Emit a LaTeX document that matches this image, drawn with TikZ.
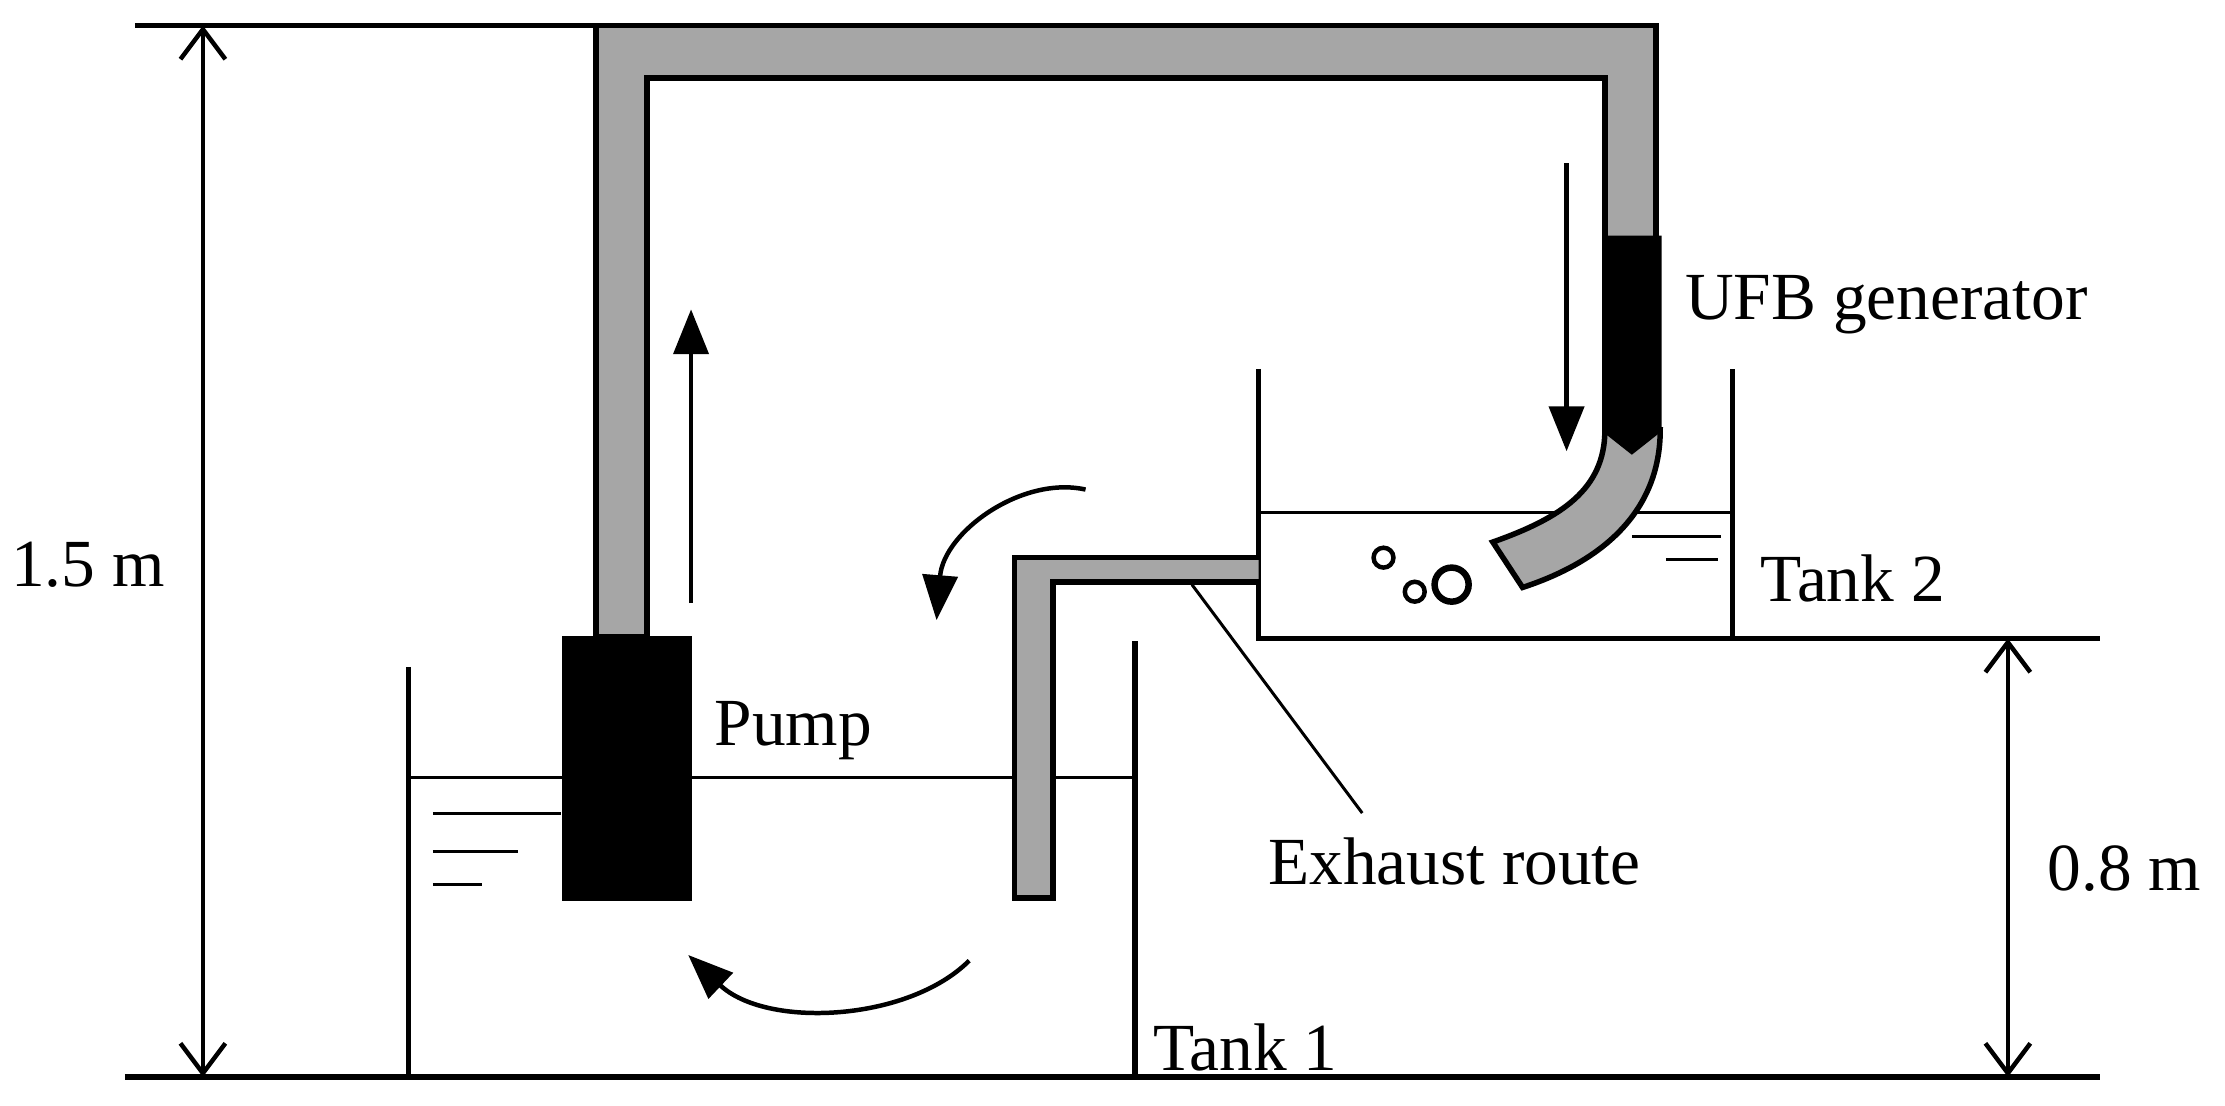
\documentclass[tikz,border=0pt]{standalone}
\usepackage{fontspec}
\setmainfont{Liberation Serif}
\usetikzlibrary{arrows.meta}
\begin{document}
\begin{tikzpicture}[x=0.01cm,y=-0.01cm,
  wall/.style={line width=1.1pt},
  thin/.style={line width=0.6pt},
  pipe/.style={fill=gray!70,draw=black,line width=1.1pt},
  dim/.style={line width=0.9pt,{Straight Barb[length=6pt,width=9pt]}-{Straight Barb[length=6pt,width=9pt]}},
  flow/.style={line width=0.9pt,-{Triangle[length=9pt,width=7pt]}},
  lbl/.style={font=\fontsize{13.5}{16}\selectfont,inner sep=0pt}]
\useasboundingbox (0,0) rectangle (1568,779);
% ground lines
\draw[wall] (88,759) -- (1480,759);
\draw[wall] (887,450) -- (1480,450);
\draw[wall] (95,18) -- (420,18);
% dimensions
\coordinate (d1a) at (143,18); \coordinate (d1b) at (143,759);
\draw[dim] (d1a) -- (d1b);
\node[lbl] (h15) at (62,398) {1.5 m};
\coordinate (d2a) at (1415,450); \coordinate (d2b) at (1415,759);
\draw[dim] (d2a) -- (d2b);
\node[lbl] (h08) at (1497,612) {0.8 m};
% tank 1
\draw[thin] (288,548) -- (800,548);
\draw[thin] (305,573) -- (395,573) (305,600) -- (365,600) (305,623) -- (340,623);
\draw[wall] (288,470) -- (288,759);
\draw[wall] (800,452) -- (800,759);
% main pipe
\draw[pipe] (420,449) -- (420,18) -- (1167,18) -- (1167,168) -- (1131,168) -- (1131,55) -- (456,55) -- (456,449) -- cycle;
% pump
\node[draw,fill=black,minimum width=90*0.01cm,minimum height=185*0.01cm,inner sep=0pt] (pump) at (442,541.5) {};
\node[lbl,anchor=west] (pumpl) at (503,515) {Pump};
% tank 2
\draw[thin] (887,361) -- (1221,361);
\draw[thin] (1150,378) -- (1213,378) (1174,394) -- (1211,394);
\draw[wall] (887,260) -- (887,450) -- (1221,450) -- (1221,260);
% exhaust pipe
\draw[pipe] (887,393) -- (715,393) -- (715,633) -- (742,633) -- (742,410) -- (887,410);
% curved outlet
\draw[pipe] (1131,303) .. controls (1131,345) and (1100,365) .. (1052,382) -- (1073,414) .. controls (1140,392) and (1170,352) .. (1170,303) -- cycle;
\draw[fill=black,line width=1.1pt] (1131,168) -- (1169,168) -- (1169,303) -- (1150,318) -- (1131,303) -- cycle;
\node[lbl,anchor=west] (ufb) at (1187,215) {UFB generator};
% bubbles
\draw[line width=0.9pt] (975,393) circle (7);
\draw[line width=0.9pt] (997,417) circle (7);
\draw[line width=1.3pt] (1023,412) circle (12);
% labels
\node[lbl,anchor=west] (t2) at (1240,408) {Tank 2};
\node[lbl,anchor=west] (t1) at (812,738) {Tank 1};
\node[lbl,anchor=west] (ex) at (893,607) {Exhaust route};
\coordinate (exp) at (840,412);
\draw[thin] (exp) -- (960,573);
% flow arrows
\coordinate (u1) at (487,425); \coordinate (u2) at (487,218);
\draw[flow] (u1) -- (u2);
\coordinate (v1) at (1104,115); \coordinate (v2) at (1104,318);
\draw[flow] (v1) -- (v2);
\coordinate (c1) at (765,345); \coordinate (c2) at (660,437);
\draw[flow] (c1) .. controls (720,335) and (665,375) .. (c2);
\coordinate (b1) at (683,677); \coordinate (b2) at (485,673);
\draw[flow] (b1) .. controls (640,720) and (540,725) .. (b2);
\end{tikzpicture}
\end{document}
